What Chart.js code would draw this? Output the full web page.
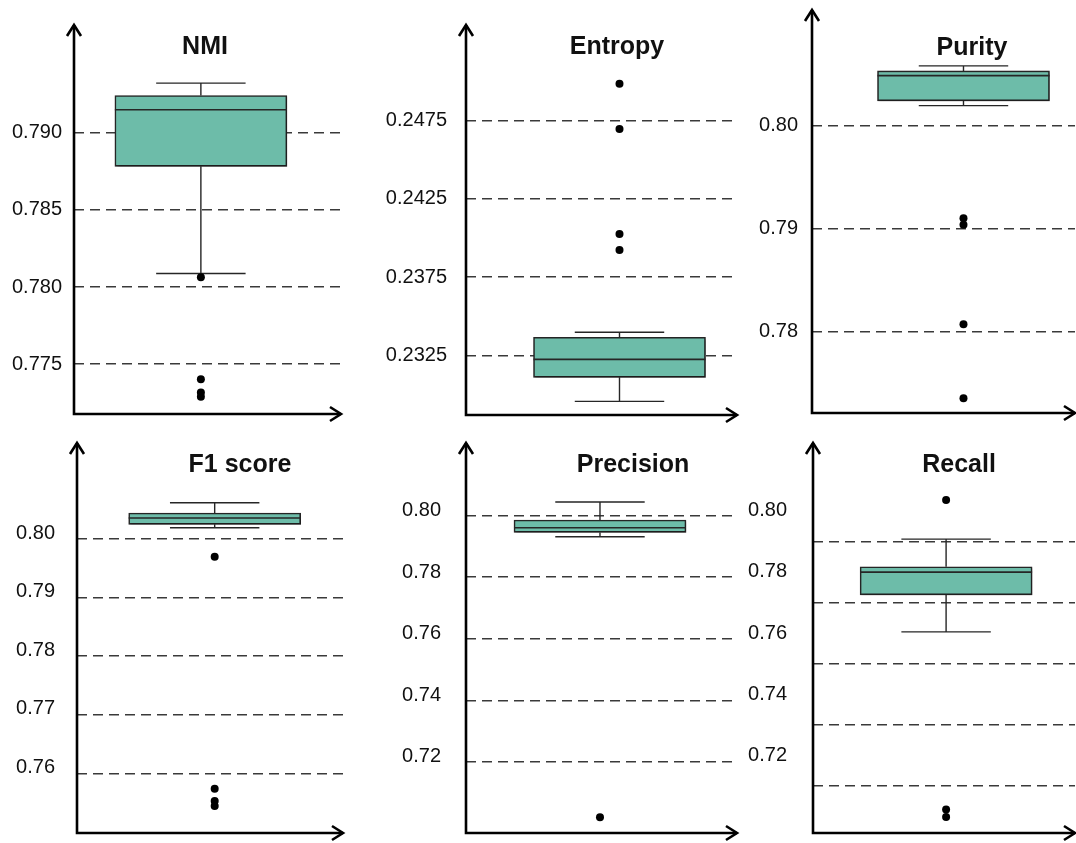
<!DOCTYPE html>
<html>
<head>
<meta charset="utf-8">
<script src="https://cdn.jsdelivr.net/npm/chart.js@4.4.1/dist/chart.umd.min.js"></script>
<style>
  html, body { margin: 0; padding: 0; background: #fff; overflow: hidden; }
  #page { position: relative; width: 1076px; height: 843px; }
  #page canvas { position: absolute; }
</style>
</head>
<body>
<div id="page"></div>
<script>
// box plot statistics, one entry per metric
var metrics     = ['NMI', 'Entropy', 'Purity', 'F1 score', 'Precision', 'Recall'];
var whiskerLow  = [0.78088, 0.22955, 0.80197, 0.80193, 0.79305, 0.76038];
var quartile1   = [0.78782, 0.23109, 0.80243, 0.80250, 0.79448, 0.77250];
var medians     = [0.79149, 0.23224, 0.80488, 0.80358, 0.79597, 0.77993];
var quartile3   = [0.79241, 0.23365, 0.80534, 0.80444, 0.79847, 0.78166];
var whiskerHigh = [0.79321, 0.23397, 0.80583, 0.80620, 0.80432, 0.79073];
var outliers = [
  [0.78064, 0.77403, 0.77317, 0.77289],
  [0.24987, 0.24697, 0.24026, 0.23923],
  [0.79104, 0.79039, 0.78074, 0.77355],
  [0.79698, 0.75737, 0.75527, 0.75442],
  [0.70206],
  [0.80350, 0.70222, 0.69980]
];

// y axes
var yMin = [0.77177, 0.22868, 0.77211, 0.74981, 0.69694, 0.69457];
var yMax = [0.79698, 0.25362, 0.81126, 0.81639, 0.82348, 0.82217];
var tickLabels = [
  [0.775, 0.780, 0.785, 0.790],
  [0.2325, 0.2375, 0.2425, 0.2475],
  [0.78, 0.79, 0.80],
  [0.76, 0.77, 0.78, 0.79, 0.80],
  [0.72, 0.74, 0.76, 0.78, 0.80],
  [0.72, 0.74, 0.76, 0.78, 0.80]
];
var gridValues = [
  [0.775, 0.780, 0.785, 0.790],
  [0.2325, 0.2375, 0.2425, 0.2475],
  [0.78, 0.79, 0.80],
  [0.76, 0.77, 0.78, 0.79, 0.80],
  [0.72, 0.74, 0.76, 0.78, 0.80],
  [0.71, 0.73, 0.75, 0.77, 0.79]
];
var decimals = [3, 4, 2, 2, 2, 2];

// page placement of each plot area (px)
var panels = [
  { left: 74,  right: 341,  top: 25,  bottom: 414, boxAt: 0.469, pad: 12, shift: 0,  titleX: 205, titleY: 54 },
  { left: 466, right: 737,  top: 25,  bottom: 415, boxAt: 0.583, pad: 19, shift: 0,  titleX: 617, titleY: 54 },
  { left: 812, right: 1075, top: 10,  bottom: 413, boxAt: 0.595, pad: 14, shift: 0,  titleX: 972, titleY: 55 },
  { left: 77,  right: 343,  top: 443, bottom: 833, boxAt: 0.522, pad: 22, shift: -6, titleX: 240, titleY: 472 },
  { left: 466, right: 737,  top: 443, bottom: 833, boxAt: 0.493, pad: 25, shift: -5, titleX: 633, titleY: 472 },
  { left: 813, right: 1075, top: 443, bottom: 833, boxAt: 0.510, pad: 26, shift: 0,  titleX: 959, titleY: 472 }
];

var LABEL_SPACE = 90;
var PAD = 48;   // must exceed half a label height plus tick padding
var FONT = '"Liberation Sans", Arial, Helvetica, sans-serif';
var TEAL = '#6dbca9';
var INK = '#262626';

var boxPlot = {
  id: 'boxPlot',
  beforeDatasetsDraw: function(chart) {
    var i = chart.options.plugins.boxPlot.index;
    var bar = chart.getDatasetMeta(0).data[0];
    var y = chart.scales.y;
    var c = chart.ctx;
    var cap = bar.width * 0.26;
    c.save();
    c.strokeStyle = INK;
    c.lineWidth = 1.4;
    c.beginPath();
    c.moveTo(bar.x, y.getPixelForValue(quartile3[i]));
    c.lineTo(bar.x, y.getPixelForValue(whiskerHigh[i]));
    c.moveTo(bar.x, y.getPixelForValue(quartile1[i]));
    c.lineTo(bar.x, y.getPixelForValue(whiskerLow[i]));
    c.moveTo(bar.x - cap, y.getPixelForValue(whiskerHigh[i]));
    c.lineTo(bar.x + cap, y.getPixelForValue(whiskerHigh[i]));
    c.moveTo(bar.x - cap, y.getPixelForValue(whiskerLow[i]));
    c.lineTo(bar.x + cap, y.getPixelForValue(whiskerLow[i]));
    c.stroke();
    c.restore();
  },
  beforeDatasetDraw: function(chart, args) {
    if (args.index !== 0) return;
    var c = chart.ctx;
    c.save();
    c.shadowColor = 'rgba(0,0,0,0.35)';
    c.shadowBlur = 3;
    c.shadowOffsetX = 1.5;
    c.shadowOffsetY = 1.5;
  },
  afterDatasetDraw: function(chart, args) {
    if (args.index !== 0) return;
    var c = chart.ctx;
    c.restore();
    var i = chart.options.plugins.boxPlot.index;
    var bar = chart.getDatasetMeta(0).data[0];
    var my = chart.scales.y.getPixelForValue(medians[i]);
    c.save();
    c.strokeStyle = INK;
    c.lineWidth = 1.6;
    c.beginPath();
    c.moveTo(bar.x - bar.width / 2, my);
    c.lineTo(bar.x + bar.width / 2, my);
    c.stroke();
    c.restore();
  },
  afterDraw: function(chart) {
    var o = chart.options.plugins.boxPlot;
    var a = chart.chartArea;
    var c = chart.ctx;
    c.save();
    c.strokeStyle = '#000';
    c.lineWidth = 2.6;
    c.lineJoin = 'miter';
    c.beginPath();
    c.moveTo(a.left, a.top);
    c.lineTo(a.left, a.bottom);
    c.lineTo(a.right, a.bottom);
    c.stroke();
    c.beginPath();
    c.moveTo(a.left - 7, a.top + 11);
    c.lineTo(a.left, a.top);
    c.lineTo(a.left + 7, a.top + 11);
    c.moveTo(a.right - 11, a.bottom - 7);
    c.lineTo(a.right, a.bottom);
    c.lineTo(a.right - 11, a.bottom + 7);
    c.stroke();
    // panel title
    c.fillStyle = '#111';
    c.font = 'bold 25px ' + FONT;
    c.textAlign = 'center';
    c.textBaseline = 'alphabetic';
    c.fillText(metrics[o.index], o.titleX, o.titleY);
    c.restore();
  }
};

var page = document.getElementById('page');

metrics.forEach(function(name, i) {
  var p = panels[i];
  var cv = document.createElement('canvas');
  var w = p.right - p.left + LABEL_SPACE + PAD;
  var h = p.bottom - p.top + 2 * PAD;
  var cl = p.left - LABEL_SPACE;
  var ct = p.top - PAD;
  cv.width = w;
  cv.height = h;
  cv.style.width = w + 'px';
  cv.style.height = h + 'px';
  cv.style.left = cl + 'px';
  cv.style.top = ct + 'px';
  page.appendChild(cv);

  var allTicks = tickLabels[i].concat(gridValues[i].filter(function(v) {
    return tickLabels[i].indexOf(v) < 0;
  })).sort(function(a, b) { return a - b; });

  new Chart(cv, {
    type: 'bar',
    data: {
      datasets: [{
        data: [{ x: 0, y: [quartile1[i], quartile3[i]] }],
        backgroundColor: TEAL,
        borderColor: INK,
        borderWidth: 1.6,
        borderSkipped: false,
        barThickness: 172
      }, {
        type: 'line',
        data: outliers[i].map(function(v) { return { x: 0, y: v }; }),
        showLine: false,
        pointRadius: 4,
        pointBackgroundColor: '#000',
        pointBorderColor: '#000',
        pointBorderWidth: 0
      }]
    },
    options: {
      responsive: false,
      animation: false,
      events: [],
      layout: { padding: { left: 0, right: PAD, top: PAD, bottom: PAD } },
      plugins: {
        legend: { display: false },
        tooltip: { enabled: false },
        boxPlot: { index: i, titleX: p.titleX - cl, titleY: p.titleY - ct }
      },
      scales: {
        x: {
          type: 'linear',
          min: -p.boxAt,
          max: 1 - p.boxAt,
          display: false
        },
        y: {
          min: yMin[i],
          max: yMax[i],
          afterFit: function(s) { s.width = LABEL_SPACE; },
          afterBuildTicks: function(s) {
            s.ticks = allTicks.map(function(v) { return { value: v }; });
          },
          border: { display: false, dash: [10, 6] },
          grid: {
            drawTicks: false,
            lineWidth: 1.5,
            color: function(ctx) {
              return gridValues[i].indexOf(ctx.tick.value) >= 0 ? '#3a3a3a' : 'rgba(0,0,0,0)';
            }
          },
          ticks: {
            autoSkip: false,
            padding: p.pad,
            labelOffset: p.shift,
            color: '#111',
            font: { family: FONT, size: 20 },
            callback: function(v) {
              return tickLabels[i].indexOf(v) >= 0 ? v.toFixed(decimals[i]) : '';
            }
          }
        }
      }
    },
    plugins: [boxPlot]
  });
});
</script>
</body>
</html>
